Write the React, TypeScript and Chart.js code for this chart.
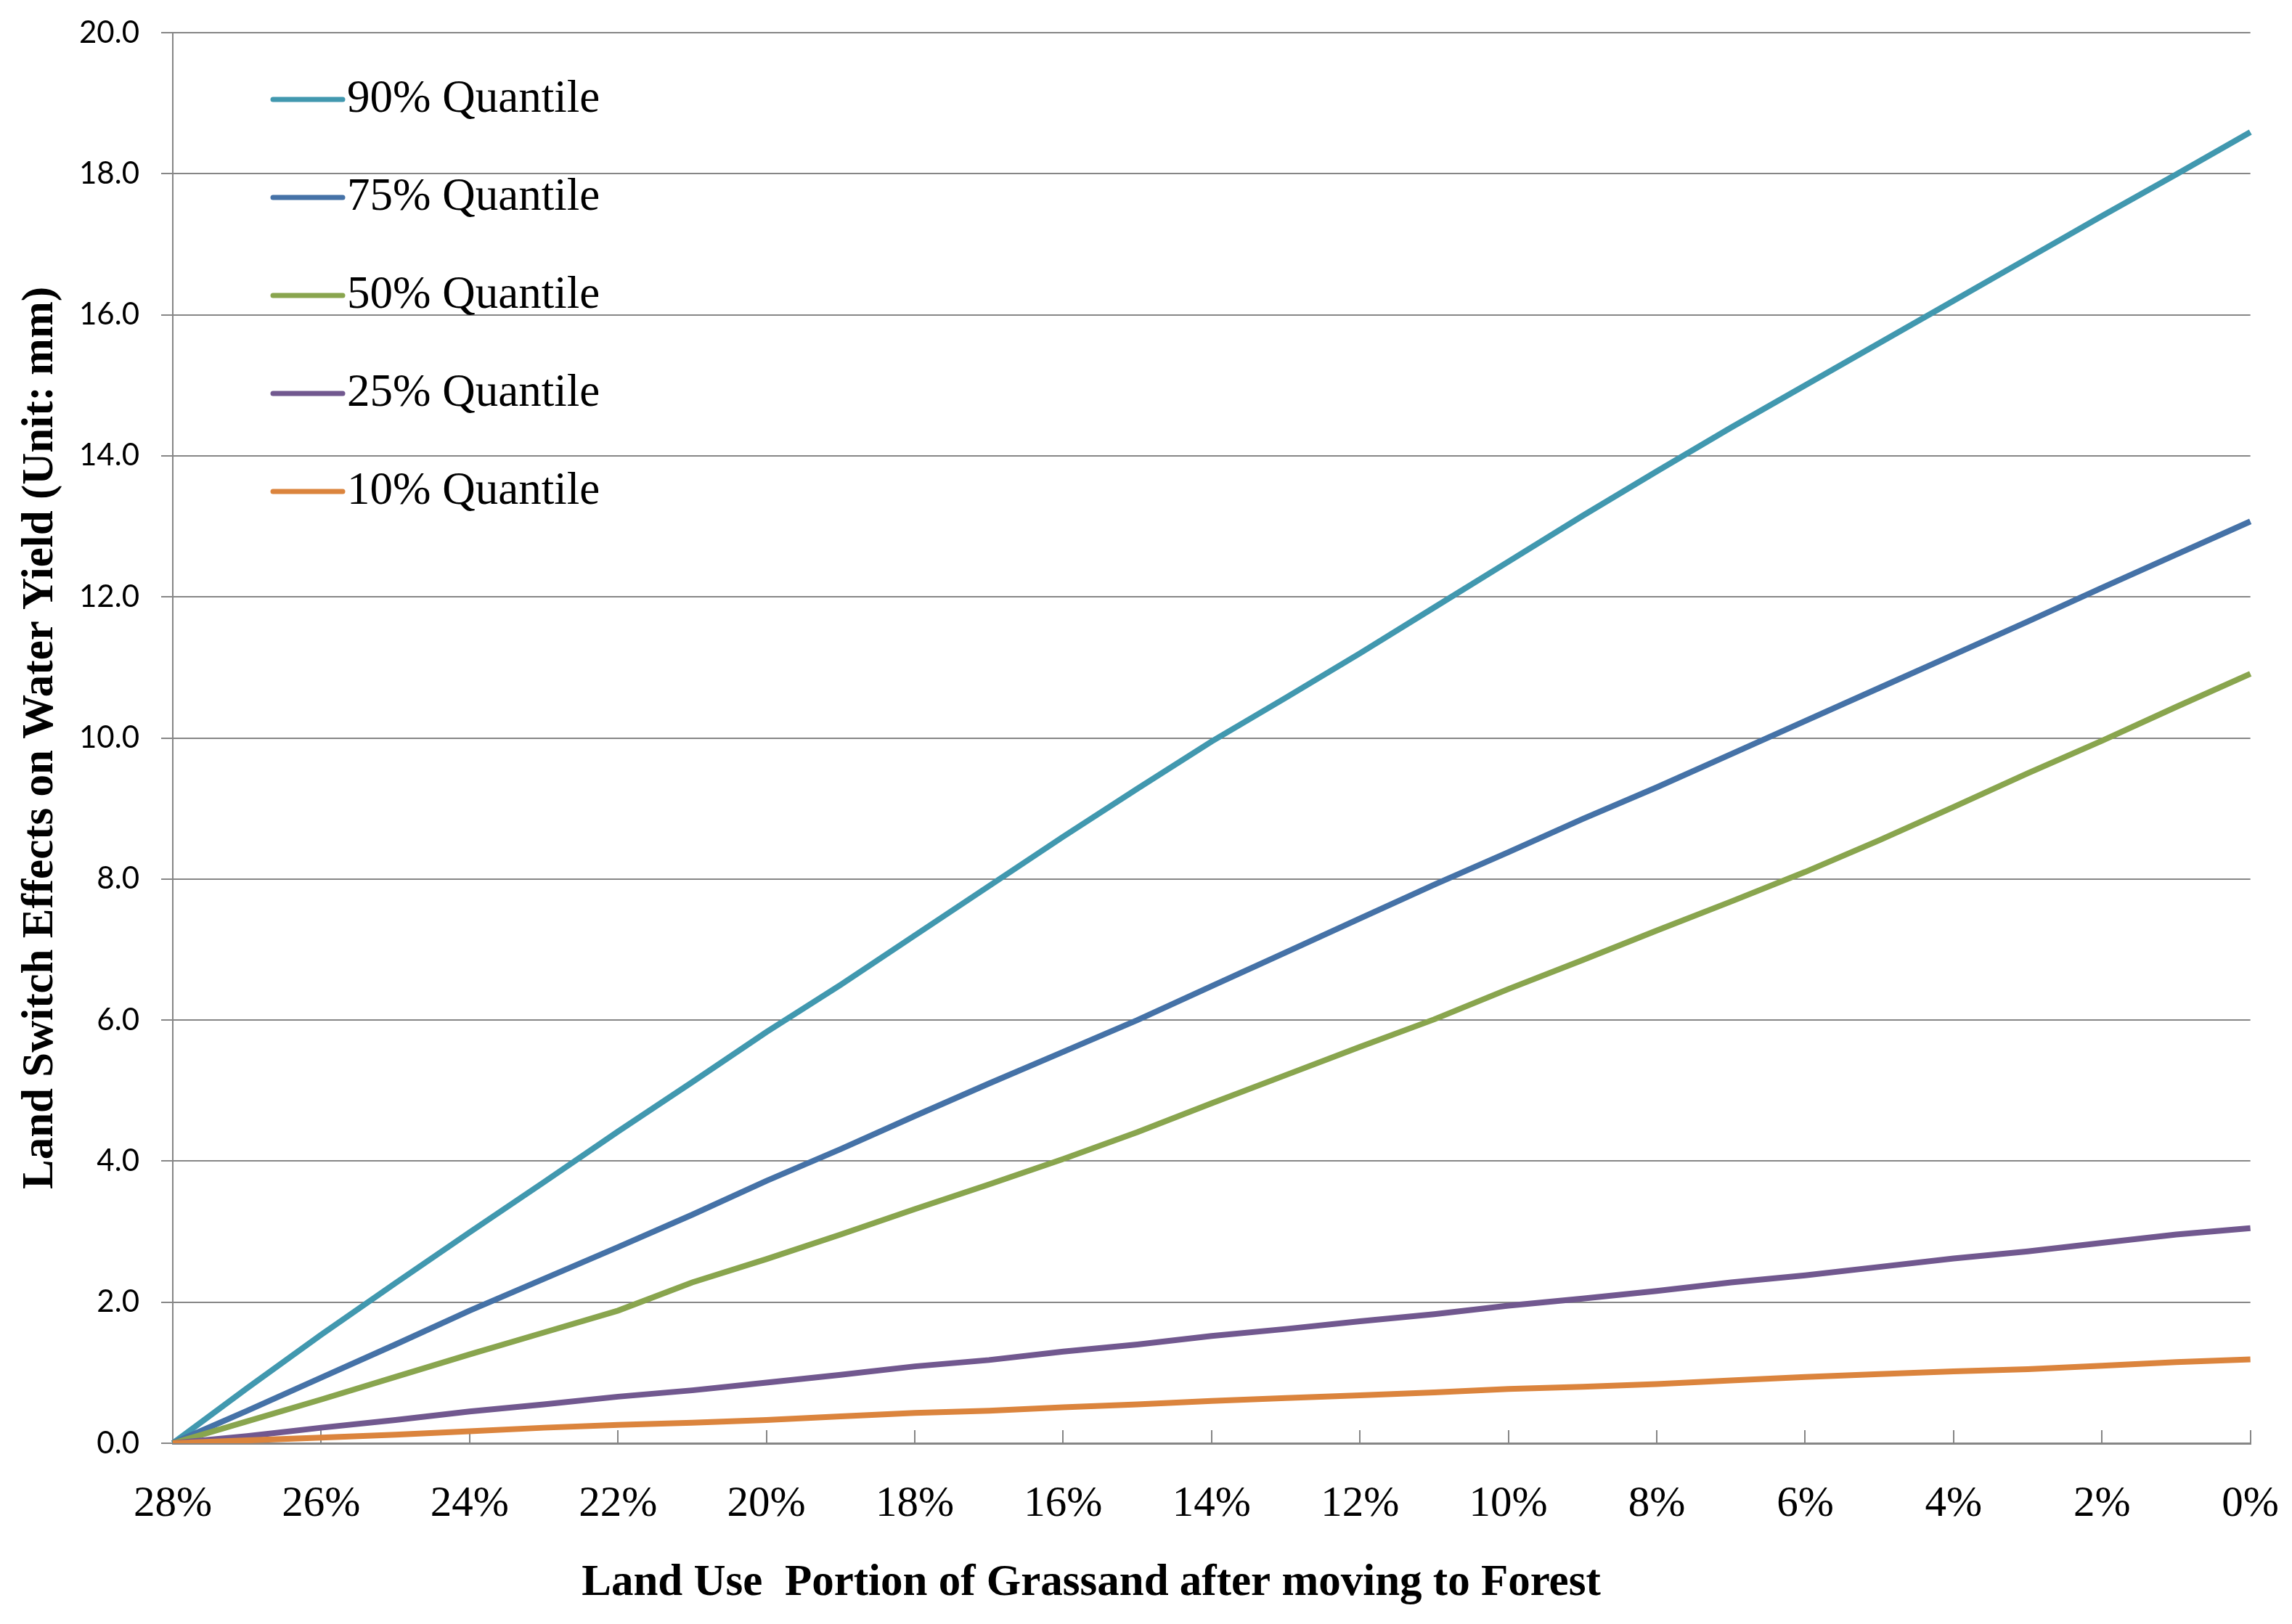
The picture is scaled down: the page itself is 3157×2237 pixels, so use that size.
import React, { useEffect, useRef } from 'react';
import { Chart, registerables } from 'chart.js';

Chart.register(...registerables);

const categories = ['28%', '27%', '26%', '25%', '24%', '23%', '22%', '21%', '20%', '19%', '18%', '17%', '16%', '15%', '14%', '13%', '12%', '11%', '10%', '9%', '8%', '7%', '6%', '5%', '4%', '3%', '2%', '1%', '0%'];

const seriesNames = ['90% Quantile', '75% Quantile', '50% Quantile', '25% Quantile', '10% Quantile'];
const seriesColors = ['#4198AF', '#4572A7', '#89A54E', '#71588F', '#DB843D'];

const q90 = [0, 0.78, 1.54, 2.27, 2.99, 3.70, 4.42, 5.12, 5.83, 6.50, 7.20, 7.90, 8.60, 9.28, 9.95, 10.57, 11.20, 11.85, 12.50, 13.15, 13.78, 14.40, 15.00, 15.60, 16.20, 16.80, 17.40, 17.99, 18.59];
const q75 = [0, 0.46, 0.93, 1.40, 1.88, 2.33, 2.78, 3.24, 3.72, 4.17, 4.64, 5.10, 5.55, 6.00, 6.48, 6.96, 7.44, 7.92, 8.38, 8.85, 9.30, 9.77, 10.24, 10.71, 11.18, 11.65, 12.13, 12.60, 13.07];
const q50 = [0, 0.31, 0.62, 0.94, 1.26, 1.57, 1.88, 2.28, 2.61, 2.96, 3.32, 3.67, 4.03, 4.41, 4.82, 5.22, 5.62, 6.01, 6.44, 6.85, 7.27, 7.68, 8.10, 8.55, 9.02, 9.50, 9.96, 10.44, 10.91];
const q25 = [0, 0.10, 0.22, 0.33, 0.45, 0.55, 0.66, 0.75, 0.86, 0.97, 1.09, 1.18, 1.30, 1.40, 1.52, 1.62, 1.73, 1.83, 1.95, 2.05, 2.16, 2.28, 2.38, 2.50, 2.62, 2.72, 2.84, 2.96, 3.05];
const q10 = [0, 0.04, 0.08, 0.12, 0.17, 0.22, 0.26, 0.29, 0.33, 0.38, 0.43, 0.46, 0.51, 0.55, 0.60, 0.64, 0.68, 0.72, 0.77, 0.80, 0.84, 0.89, 0.94, 0.98, 1.02, 1.05, 1.10, 1.15, 1.19];

const xTitle = 'Land Use  Portion of Grassand after moving to Forest';
const yTitle = 'Land Switch Effects on Water Yield (Unit: mm)';

const W = 3157;
const H = 2237;

export default function App() {
  const ref = useRef<HTMLCanvasElement>(null);

  useEffect(() => {
    const canvas = ref.current;
    if (!canvas) return;
    const seriesData = [q90, q75, q50, q25, q10];

    const overlay = {
      id: 'insideLegendAndTitle',
      afterDatasetsDraw(chart: any) {
        const { ctx, chartArea } = chart;
        ctx.save();
        chart.data.datasets.forEach((ds: any, i: number) => {
          const y = chartArea.top + 92 + i * 135;
          ctx.strokeStyle = ds.borderColor;
          ctx.lineWidth = 7;
          ctx.lineCap = 'round';
          ctx.beginPath();
          ctx.moveTo(chartArea.left + 138, y);
          ctx.lineTo(chartArea.left + 234, y);
          ctx.stroke();
          ctx.fillStyle = '#000';
          ctx.font = '63px "Liberation Serif"';
          ctx.textBaseline = 'middle';
          ctx.textAlign = 'left';
          ctx.fillText(ds.label, chartArea.left + 240, y);
        });
        ctx.font = 'bold 61px "Liberation Serif"';
        ctx.textAlign = 'center';
        ctx.textBaseline = 'alphabetic';
        ctx.fillStyle = '#000';
        ctx.fillText(xTitle, chartArea.left + 1265, chartArea.bottom + 209);
        ctx.restore();
      },
    };

    const chart = new Chart(canvas, {
      type: 'line',
      data: {
        labels: categories,
        datasets: seriesNames.map((name, i) => ({
          label: name,
          data: seriesData[i],
          borderColor: seriesColors[i],
          backgroundColor: seriesColors[i],
          borderWidth: 8,
          pointRadius: 0,
          tension: 0,
          fill: false,
          order: seriesNames.length - i,
        })),
      },
      options: {
        responsive: false,
        animation: false,
        devicePixelRatio: 1,
        layout: { padding: { top: 45, right: 57, left: 0, bottom: 0 } },
        plugins: {
          legend: { display: false },
          tooltip: { enabled: false },
        },
        scales: {
          x: {
            type: 'category',
            offset: false,
            grid: {
              drawOnChartArea: false,
              drawTicks: true,
              tickLength: -18,
              lineWidth: 2,
              color: (c: any) => (c.index % 2 === 0 ? '#868686' : 'rgba(0,0,0,0)'),
            },
            border: { display: true, color: '#868686', width: 3 },
            ticks: {
              autoSkip: false,
              maxRotation: 0,
              minRotation: 0,
              padding: 18,
              color: '#000',
              font: { family: '"Liberation Serif"', size: 59, lineHeight: 2.85 },
              callback: (_v: any, i: number) => (i % 2 === 0 ? categories[i] : ''),
            },
            afterFit: (s: any) => {
              s.height = 249;
            },
          },
          y: {
            min: 0,
            max: 20,
            ticks: {
              stepSize: 2,
              padding: 30,
              color: '#000',
              font: { family: 'Lato', size: 42, lineHeight: 0.5 },
              callback: (v: any) => Number(v).toFixed(1),
            },
            grid: { color: '#868686', lineWidth: 2, tickLength: 16 },
            border: { color: '#868686', width: 2 },
            title: {
              display: true,
              text: yTitle,
              color: '#000',
              font: { family: '"Liberation Serif"', size: 61, weight: 'bold' },
              padding: { top: 20, bottom: 0 },
            },
            afterFit: (s: any) => {
              s.width = 238;
            },
          },
        },
      },
      plugins: [overlay],
    } as any);

    return () => chart.destroy();
  }, []);

  return (
    <div style={{ position: 'absolute', left: 0, top: 0, width: W, height: H, background: '#fff' }}>
      <canvas ref={ref} width={W} height={H} style={{ display: 'block', width: W, height: H }} />
    </div>
  );
}
